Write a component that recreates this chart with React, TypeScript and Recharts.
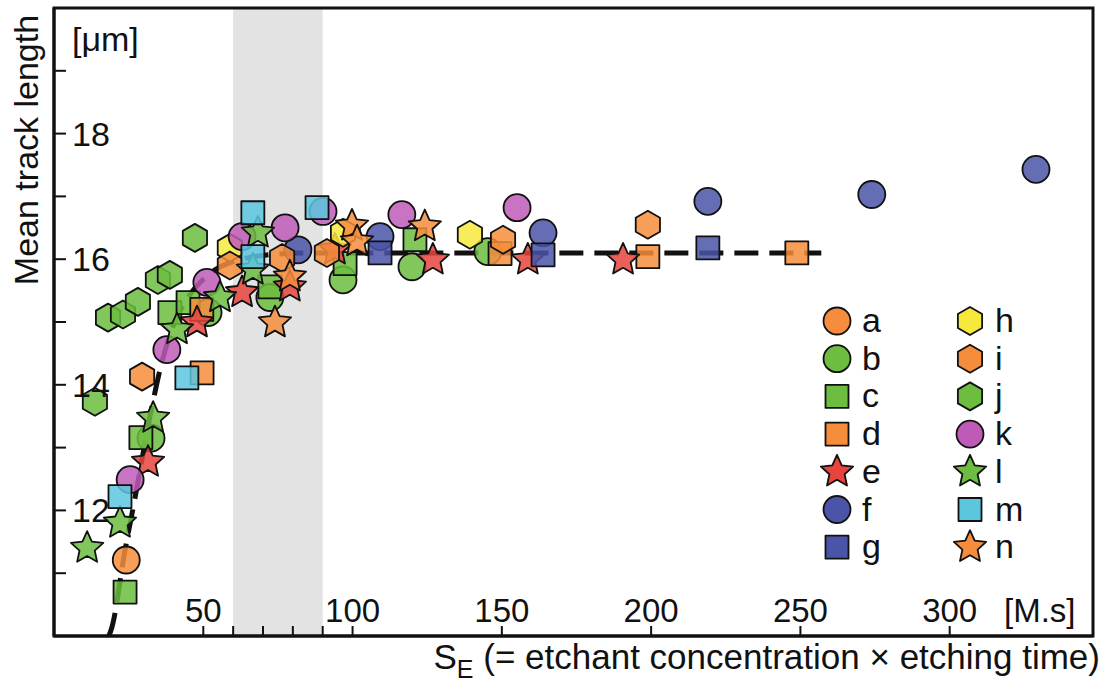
import React from 'react';
import { ComposedChart, Scatter, XAxis, YAxis, ReferenceArea } from 'recharts';

// ---- data ----
const seriesA = [{ x: 24.2, y: 11.21 }];
const seriesB = [
  { x: 32.5, y: 13.15 }, { x: 51.6, y: 15.15 }, { x: 72.3, y: 15.39 },
  { x: 96.8, y: 15.67 }, { x: 119.9, y: 15.88 }, { x: 145.3, y: 16.12 },
];
const seriesC = [
  { x: 23.8, y: 10.7 }, { x: 29.1, y: 13.16 }, { x: 38.8, y: 15.15 }, { x: 44.9, y: 15.31 },
  { x: 72.3, y: 15.56 }, { x: 97.5, y: 15.93 }, { x: 120.9, y: 16.31 },
];
const seriesD = [
  { x: 49.6, y: 14.19 }, { x: 49.5, y: 15.2 }, { x: 149.4, y: 16.09 },
  { x: 198.9, y: 16.04 }, { x: 248.8, y: 16.1 },
];
const seriesE = [
  { x: 31.5, y: 12.77 }, { x: 47.9, y: 14.99 }, { x: 63.0, y: 15.47 }, { x: 79.0, y: 15.56 },
  { x: 94.1, y: 16.15 }, { x: 126.9, y: 15.99 }, { x: 158.7, y: 15.99 }, { x: 190.6, y: 15.99 },
];
const seriesF = [
  { x: 81.7, y: 16.15 }, { x: 109.2, y: 16.36 }, { x: 163.8, y: 16.42 },
  { x: 219.0, y: 16.92 }, { x: 273.9, y: 17.03 }, { x: 328.9, y: 17.43 },
];
const seriesG = [{ x: 109.2, y: 16.1 }, { x: 163.8, y: 16.07 }, { x: 219.0, y: 16.18 }];
const seriesH = [{ x: 58.9, y: 16.18 }, { x: 96.8, y: 16.42 }, { x: 139.3, y: 16.39 }];
const seriesI = [
  { x: 29.5, y: 14.13 }, { x: 58.9, y: 15.9 }, { x: 76.4, y: 16.02 },
  { x: 91.4, y: 16.1 }, { x: 150.4, y: 16.31 }, { x: 198.9, y: 16.55 },
];
const seriesJ = [
  { x: 13.7, y: 13.73 }, { x: 18.1, y: 15.07 }, { x: 23.1, y: 15.12 }, { x: 28.1, y: 15.32 },
  { x: 34.8, y: 15.67 }, { x: 38.8, y: 15.75 }, { x: 47.2, y: 16.34 },
];
const seriesK = [
  { x: 25.5, y: 12.49 }, { x: 37.8, y: 14.56 }, { x: 51.2, y: 15.63 }, { x: 63.0, y: 16.36 },
  { x: 77.4, y: 16.5 }, { x: 90.1, y: 16.76 }, { x: 116.5, y: 16.71 }, { x: 155.1, y: 16.82 },
];
const seriesL = [
  { x: 11.1, y: 11.4 }, { x: 22.1, y: 11.8 }, { x: 33.2, y: 13.47 }, { x: 41.2, y: 14.88 },
  { x: 55.6, y: 15.39 }, { x: 66.6, y: 15.83 }, { x: 68.3, y: 16.42 },
];
const seriesM = [
  { x: 22.1, y: 12.22 }, { x: 44.5, y: 14.11 }, { x: 66.6, y: 16.74 },
  { x: 66.6, y: 16.04 }, { x: 88.1, y: 16.82 },
];
const seriesN = [
  { x: 74.0, y: 14.99 }, { x: 79.0, y: 15.72 }, { x: 99.8, y: 16.53 },
  { x: 101.5, y: 16.28 }, { x: 124.2, y: 16.52 },
];
const fitCurve = [
  { x: 18.4, y: 10.0 }, { x: 19.4, y: 10.14 }, { x: 23.8, y: 11.37 }, { x: 26.5, y: 12.04 },
  { x: 32.8, y: 13.65 }, { x: 35.5, y: 14.24 }, { x: 40, y: 14.95 }, { x: 45, y: 15.4 },
  { x: 50, y: 15.68 }, { x: 55, y: 15.86 }, { x: 60, y: 15.96 }, { x: 70, y: 16.06 },
  { x: 85, y: 16.1 }, { x: 257, y: 16.1 },
];
const shadedRange = [60, 90];
const xTicks = [50, 60, 70, 80, 90, 100, 150, 200, 250, 300];
const xTickLabels = [50, 100, 150, 200, 250, 300];
const yTicks = [11, 12, 13, 14, 15, 16, 17, 18, 19];
const yTickLabels = [12, 14, 16, 18];
const xDomain = [0, 348];
const yDomain = [10, 20];

// ---- style ----
const ORANGE = '#f68d3c';
const GREEN = '#6cbd40';
const RED = '#e8443d';
const BLUE = '#4a55a8';
const YELLOW = '#f6e93c';
const PURPLE = '#c05ab8';
const CYAN = '#5cc6df';
const FONT = '"Liberation Sans", Arial, Helvetica, sans-serif';

type Kind = 'circle' | 'square' | 'star' | 'hexagon';
const seriesList: { key: string; data: { x: number; y: number }[]; kind: Kind; color: string }[] = [
  { key: 'a', data: seriesA, kind: 'circle', color: ORANGE },
  { key: 'b', data: seriesB, kind: 'circle', color: GREEN },
  { key: 'c', data: seriesC, kind: 'square', color: GREEN },
  { key: 'd', data: seriesD, kind: 'square', color: ORANGE },
  { key: 'e', data: seriesE, kind: 'star', color: RED },
  { key: 'f', data: seriesF, kind: 'circle', color: BLUE },
  { key: 'g', data: seriesG, kind: 'square', color: BLUE },
  { key: 'h', data: seriesH, kind: 'hexagon', color: YELLOW },
  { key: 'i', data: seriesI, kind: 'hexagon', color: ORANGE },
  { key: 'j', data: seriesJ, kind: 'hexagon', color: GREEN },
  { key: 'k', data: seriesK, kind: 'circle', color: PURPLE },
  { key: 'l', data: seriesL, kind: 'star', color: GREEN },
  { key: 'm', data: seriesM, kind: 'square', color: CYAN },
  { key: 'n', data: seriesN, kind: 'star', color: ORANGE },
];

function hexPoints(cx: number, cy: number, r: number) {
  const pts: string[] = [];
  for (let k = 0; k < 6; k++) {
    const a = ((-90 + 60 * k) * Math.PI) / 180;
    pts.push(`${cx + r * Math.cos(a)},${cy + r * Math.sin(a)}`);
  }
  return pts.join(' ');
}
function starPoints(cx: number, cy: number, R: number, r: number) {
  const pts: string[] = [];
  for (let k = 0; k < 10; k++) {
    const a = ((-90 + 36 * k) * Math.PI) / 180;
    const rad = k % 2 === 0 ? R : r;
    pts.push(`${cx + rad * Math.cos(a)},${cy + rad * Math.sin(a)}`);
  }
  return pts.join(' ');
}

function Marker({ kind, cx, cy, color, opacity = 0.85 }: { kind: Kind; cx: number; cy: number; color: string; opacity?: number }) {
  const common = { fill: color, fillOpacity: opacity, stroke: '#111', strokeWidth: 1.8, strokeLinejoin: 'round' as const };
  if (cx == null || cy == null || isNaN(cx) || isNaN(cy)) return <g />;
  switch (kind) {
    case 'circle':
      return <circle cx={cx} cy={cy} r={13.5} {...common} />;
    case 'square':
      return <rect x={cx - 11.5} y={cy - 11.5} width={23} height={23} {...common} />;
    case 'hexagon':
      return <polygon points={hexPoints(cx, cy, 14)} {...common} />;
    case 'star':
      return <polygon points={starPoints(cx, cy, 17, 8)} {...common} />;
  }
  return <g />;
}

const XTick = (props: any) => {
  const { x, y, payload } = props;
  const v = payload.value;
  return (
    <g>
      <line x1={x} x2={x} y1={y} y2={y - 10} stroke="#111" strokeWidth={2} />
      {xTickLabels.includes(v) && (
        <text x={x} y={y - 14} textAnchor="middle" fontFamily={FONT} fontSize={33} fill="#111">
          {v}
        </text>
      )}
    </g>
  );
};

const YTick = (props: any) => {
  const { x, y, payload } = props;
  const v = payload.value;
  return (
    <g>
      <line x1={x} x2={x + 12} y1={y} y2={y} stroke="#111" strokeWidth={2} />
      {yTickLabels.includes(v) && (
        <text x={x + 18} y={y + 12} textAnchor="start" fontFamily={FONT} fontSize={34} fill="#111">
          {v}
        </text>
      )}
    </g>
  );
};

const legendCol1 = ['a', 'b', 'c', 'd', 'e', 'f', 'g'];
const legendCol2 = ['h', 'i', 'j', 'k', 'l', 'm', 'n'];

export default function App() {
  return (
    <div style={{ position: 'absolute', left: 0, top: 0, width: 1109, height: 688, background: '#fff' }}>
      <ComposedChart width={1109} height={688} margin={{ top: 8, right: 16, bottom: 22, left: 1 }}>
        <XAxis
          type="number"
          dataKey="x"
          domain={xDomain}
          ticks={xTicks}
          allowDataOverflow
          height={30}
          tickSize={0}
          tickMargin={0}
          tickLine={false}
          axisLine={{ stroke: '#111', strokeWidth: 3 }}
          tick={<XTick />}
          interval={0}
        />
        <YAxis
          type="number"
          dataKey="y"
          domain={yDomain}
          ticks={yTicks}
          allowDataOverflow
          width={53}
          tickSize={0}
          tickMargin={0}
          tickLine={false}
          axisLine={{ stroke: '#111', strokeWidth: 3 }}
          tick={<YTick />}
          interval={0}
        />
        <ReferenceArea x1={shadedRange[0]} x2={shadedRange[1]} y1={yDomain[0]} y2={yDomain[1]} fill="#e3e3e3" fillOpacity={1} stroke="none" />
        <Scatter
          data={fitCurve}
          isAnimationActive={false}
          line={{ stroke: '#111', strokeWidth: 5, strokeDasharray: '24 11' }}
          lineJointType="monotoneX"
          shape={() => <g />}
        />
        {seriesList.map((s) => (
          <Scatter
            key={s.key}
            name={s.key}
            data={s.data}
            isAnimationActive={false}
            shape={(p: any) => <Marker kind={s.kind} cx={p.cx} cy={p.cy} color={s.color} />}
          />
        ))}
        <ReferenceArea x1={xDomain[0]} x2={xDomain[1]} y1={yDomain[0]} y2={yDomain[1]} fill="none" stroke="#111" strokeWidth={3} />
      </ComposedChart>
      <svg width={1109} height={688} style={{ position: 'absolute', left: 0, top: 0, pointerEvents: 'none' }}>
        <text x={72} y={51} fontFamily={FONT} fontSize={34} fill="#111">[μm]</text>
        <text x={1004} y={622} fontFamily={FONT} fontSize={33} fill="#111">[M.s]</text>
        <text x={0} y={0} transform="translate(38,150) rotate(-90)" textAnchor="middle" fontFamily={FONT} fontSize={34} fill="#111">
          Mean track length
        </text>
        <text x={1100} y={669} textAnchor="end" fontFamily={FONT} fontSize={35} fill="#111">
          S<tspan fontSize={25} dy={9}>E</tspan>
          <tspan dy={-9}> (= etchant concentration × etching time)</tspan>
        </text>
        {legendCol1.map((k, i) => {
          const s = seriesList.find((q) => q.key === k)!;
          const cy = 321 + i * 37.7;
          return (
            <g key={k}>
              <Marker kind={s.kind} cx={837} cy={cy} color={s.color} opacity={1} />
              <text x={862} y={cy + 11} fontFamily={FONT} fontSize={34} fill="#111">{k}</text>
            </g>
          );
        })}
        {legendCol2.map((k, i) => {
          const s = seriesList.find((q) => q.key === k)!;
          const cy = 321 + i * 37.7;
          return (
            <g key={k}>
              <Marker kind={s.kind} cx={970} cy={cy} color={s.color} opacity={1} />
              <text x={995} y={cy + 11} fontFamily={FONT} fontSize={34} fill="#111">{k}</text>
            </g>
          );
        })}
      </svg>
    </div>
  );
}
